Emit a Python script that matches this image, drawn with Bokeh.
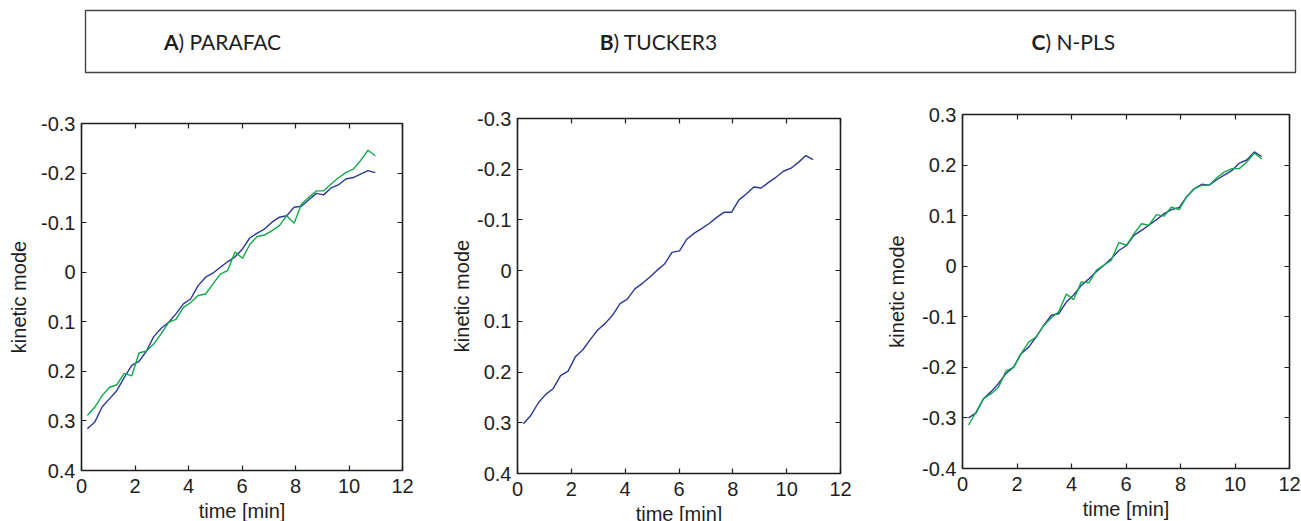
from bokeh.plotting import figure
from bokeh.layouts import column, row
from bokeh.models import Range1d, LinearAxis, FixedTicker, Label, Spacer, CustomJSTickFormatter
from bokeh.embed import file_html
from bokeh.resources import INLINE

# sampling times of the kinetic profiles (min)
time_min = [0.22, 0.50, 0.77, 1.05, 1.32, 1.60, 1.88, 2.15, 2.43, 2.70,
            2.98, 3.26, 3.53, 3.81, 4.08, 4.36, 4.64, 4.91, 5.19, 5.46,
            5.74, 6.02, 6.29, 6.57, 6.84, 7.12, 7.40, 7.67, 7.95, 8.22,
            8.50, 8.78, 9.05, 9.33, 9.60, 9.88, 10.16, 10.43, 10.71, 10.98]

# A) PARAFAC kinetic mode
parafac_blue = [0.316, 0.302, 0.272, 0.255, 0.239, 0.212, 0.188, 0.180, 0.159, 0.130,
                0.113, 0.101, 0.084, 0.064, 0.054, 0.027, 0.010, 0.002, -0.010, -0.021,
                -0.031, -0.047, -0.069, -0.079, -0.087, -0.101, -0.111, -0.114, -0.131, -0.133,
                -0.146, -0.159, -0.156, -0.170, -0.176, -0.188, -0.191, -0.198, -0.205, -0.201]
parafac_green = [0.289, 0.272, 0.249, 0.232, 0.227, 0.204, 0.209, 0.163, 0.159, 0.145,
                 0.124, 0.101, 0.095, 0.071, 0.061, 0.047, 0.044, 0.024, 0.004, -0.003,
                 -0.041, -0.028, -0.056, -0.072, -0.075, -0.084, -0.094, -0.114, -0.099, -0.137,
                 -0.151, -0.164, -0.164, -0.178, -0.190, -0.201, -0.208, -0.225, -0.246, -0.235]

# B) TUCKER3 kinetic mode
tucker_blue = [0.302, 0.285, 0.261, 0.244, 0.233, 0.207, 0.198, 0.170, 0.156, 0.136,
               0.117, 0.104, 0.088, 0.065, 0.056, 0.036, 0.025, 0.013, -0.001, -0.013,
               -0.036, -0.039, -0.062, -0.074, -0.083, -0.093, -0.105, -0.115, -0.115, -0.139,
               -0.151, -0.165, -0.163, -0.174, -0.184, -0.196, -0.202, -0.213, -0.227, -0.219]

# C) N-PLS kinetic mode
npls_blue = [-0.300, -0.290, -0.262, -0.248, -0.232, -0.212, -0.199, -0.173, -0.160, -0.140,
             -0.117, -0.097, -0.094, -0.071, -0.057, -0.038, -0.025, -0.011, 0.002, 0.015,
             0.031, 0.041, 0.061, 0.071, 0.081, 0.092, 0.104, 0.112, 0.116, 0.137,
             0.153, 0.162, 0.160, 0.171, 0.180, 0.189, 0.204, 0.210, 0.226, 0.217]
npls_green = [-0.314, -0.288, -0.262, -0.252, -0.239, -0.207, -0.200, -0.173, -0.150, -0.140,
              -0.117, -0.102, -0.090, -0.055, -0.066, -0.031, -0.033, -0.008, 0.002, 0.012,
              0.047, 0.041, 0.064, 0.084, 0.081, 0.102, 0.099, 0.117, 0.112, 0.137,
              0.153, 0.160, 0.160, 0.175, 0.186, 0.193, 0.193, 0.206, 0.224, 0.212]

x_ticks = [0, 2, 4, 6, 8, 10, 12]
y_ticks = [-0.4, -0.3, -0.2, -0.1, 0, 0.1, 0.2, 0.3, 0.4]
y_tick_labels = ["-0.4", "-0.3", "-0.2", "-0.1", "0", "0.1", "0.2", "0.3", "0.4"]

panel_letters = ["A", "B", "C"]
method_names = ["PARAFAC", "TUCKER3", "N-PLS"]

BLUE = "#2b3896"
GREEN = "#12a84c"
INK = "#1e1e1e"
FONT = "Liberation Sans"


def style_axis(ax, show_labels=True):
    ax.major_tick_in = 5
    ax.major_tick_out = 0
    ax.minor_tick_line_color = None
    ax.axis_line_color = None
    ax.major_tick_line_color = INK
    ax.major_tick_line_width = 1.2
    if show_labels:
        ax.major_label_text_font = FONT
        ax.major_label_text_font_size = "20px"
        ax.major_label_text_color = INK
        ax.axis_label_text_font = FONT
        ax.axis_label_text_font_size = "20px"
        ax.axis_label_text_font_style = "normal"
        ax.axis_label_text_color = INK
    else:
        # mirrored box ticks carry no numbers
        ax.formatter = CustomJSTickFormatter(code="return ''")
        ax.major_label_standoff = 0


def panel(y_lo, y_hi, series, borders, frame, ylabel_gap):
    left, right, top, bottom = borders
    fw, fh = frame
    p = figure(frame_width=fw, frame_height=fh,
               min_border_left=left, min_border_right=right,
               min_border_top=top, min_border_bottom=bottom,
               x_range=Range1d(0, 12), y_range=Range1d(y_lo, y_hi),
               output_backend="svg", toolbar_location=None,
               x_axis_label="time [min]", y_axis_label="kinetic mode")
    p.grid.visible = False
    p.outline_line_color = INK
    p.outline_line_width = 1.6
    p.background_fill_color = "white"
    p.border_fill_color = "white"

    overrides = {t: s for t, s in zip(y_ticks, y_tick_labels)}
    p.xaxis.ticker = FixedTicker(ticks=x_ticks)
    p.yaxis.ticker = FixedTicker(ticks=y_ticks)
    p.yaxis.major_label_overrides = overrides
    style_axis(p.xaxis[0])
    style_axis(p.yaxis[0])
    p.xaxis.major_label_standoff = 8
    p.xaxis.axis_label_standoff = 4
    p.yaxis.major_label_standoff = 6
    p.yaxis.axis_label_standoff = ylabel_gap

    top_ax = LinearAxis(ticker=FixedTicker(ticks=x_ticks))
    style_axis(top_ax, show_labels=False)
    p.add_layout(top_ax, "above")
    right_ax = LinearAxis(ticker=FixedTicker(ticks=y_ticks))
    style_axis(right_ax, show_labels=False)
    p.add_layout(right_ax, "right")

    for values, color in series:
        p.line(time_min, values, line_color=color, line_width=1.4)
    return p


# header box with the three method titles
header = figure(width=1301, height=85, frame_width=1210, frame_height=62,
                min_border_left=85, min_border_right=6,
                min_border_top=10, min_border_bottom=13,
                x_range=Range1d(0, 1210), y_range=Range1d(0, 62),
                x_axis_location=None, y_axis_location=None,
                output_backend="svg", toolbar_location=None)
header.grid.visible = False
header.outline_line_color = "#444444"
header.outline_line_width = 1.4
title_x = [93, 528, 960]
for letter, name, xx in zip(panel_letters, method_names, title_x):
    header.add_layout(Label(x=xx, y=31, text=letter, text_align="right",
                            text_baseline="middle", text_font="Lato",
                            text_font_style="bold", text_font_size="21px",
                            text_color=INK))
    header.add_layout(Label(x=xx, y=31, text=") " + name, text_align="left",
                            text_baseline="middle", text_font="Lato",
                            text_font_size="21px", text_color=INK))

# each panel sits at its own height: a spacer above it, same top border
pa = panel(0.4, -0.3, [(parafac_blue, BLUE), (parafac_green, GREEN)],
           (81, 38, 29, 51), (321, 347), 8)
pb = panel(0.4, -0.3, [(tucker_blue, BLUE)],
           (77, 40, 29, 48), (323, 355), 1)
pc = panel(-0.4, 0.3, [(npls_blue, BLUE), (npls_green, GREEN)],
           (82, 12, 29, 53), (327, 354), 11)

panels = row(column(Spacer(width=440, height=9), pa),
             column(Spacer(width=440, height=4), pb),
             column(Spacer(width=421, height=0), pc))
layout = column(header, panels)
open("out.html", "w").write(file_html(layout, INLINE))
